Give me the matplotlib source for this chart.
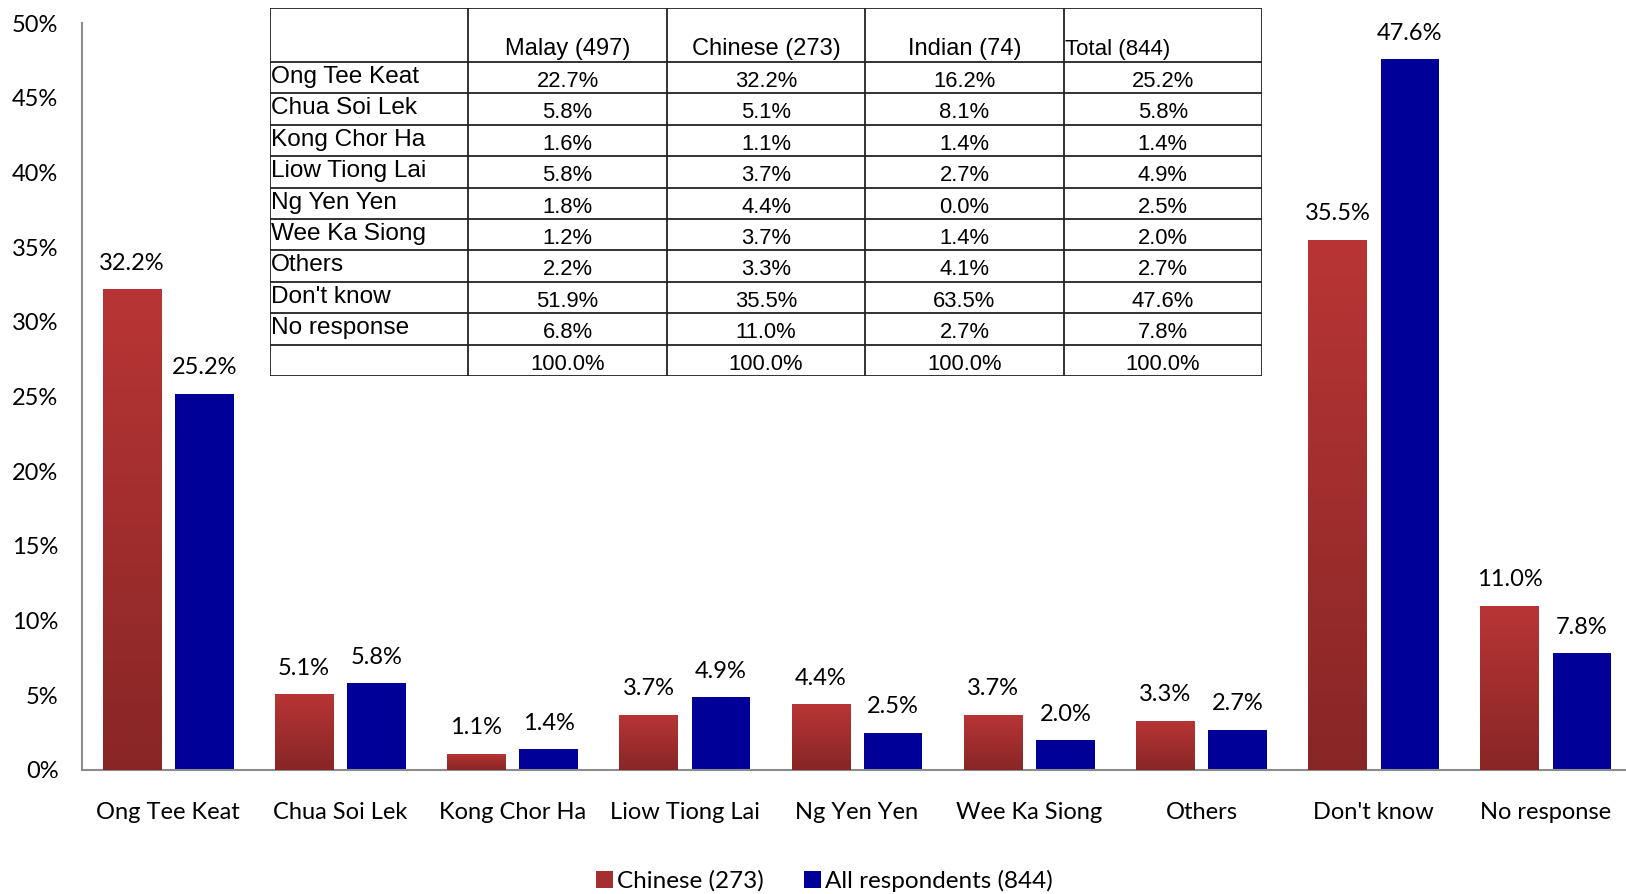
import numpy as np
import matplotlib
matplotlib.use("Agg")
import matplotlib.pyplot as plt
from matplotlib.colors import LinearSegmentedColormap
from matplotlib.patches import Patch

# data
categories = ["Ong Tee Keat", "Chua Soi Lek", "Kong Chor Ha", "Liow Tiong Lai",
              "Ng Yen Yen", "Wee Ka Siong", "Others", "Don't know", "No response"]
chinese = [32.2, 5.1, 1.1, 3.7, 4.4, 3.7, 3.3, 35.5, 11.0]
all_resp = [25.2, 5.8, 1.4, 4.9, 2.5, 2.0, 2.7, 47.6, 7.8]
series_names = ["Chinese (273)", "All respondents (844)"]

table_cols = ["Malay (497)", "Chinese (273)", "Indian (74)", "Total (844)"]
table_rows = ["Ong Tee Keat", "Chua Soi Lek", "Kong Chor Ha", "Liow Tiong Lai",
              "Ng Yen Yen", "Wee Ka Siong", "Others", "Don't know", "No response", ""]
malay = ["22.7%", "5.8%", "1.6%", "5.8%", "1.8%", "1.2%", "2.2%", "51.9%", "6.8%", "100.0%"]
chinese_t = ["32.2%", "5.1%", "1.1%", "3.7%", "4.4%", "3.7%", "3.3%", "35.5%", "11.0%", "100.0%"]
indian = ["16.2%", "8.1%", "1.4%", "2.7%", "0.0%", "1.4%", "4.1%", "63.5%", "2.7%", "100.0%"]
total = ["25.2%", "5.8%", "1.4%", "4.9%", "2.5%", "2.0%", "2.7%", "47.6%", "7.8%", "100.0%"]

RED_TOP = "#B93535"
RED_BOT = "#882626"
BLUE = "#000099"

plt.rcParams['font.family'] = ['Lato', 'DejaVu Sans']

W, H = 1626, 894
fig = plt.figure(figsize=(W / 100, H / 100), dpi=100)
# the plot area runs slightly past the right edge of the picture
ax = fig.add_axes([82 / W, (H - 770) / H, 1550 / W, (770 - 23) / H])

x = np.arange(len(categories))
bw = 0.34
off = 0.21
red_bars = ax.bar(x - off, chinese, bw, color=RED_TOP, zorder=2)
blue_bars = ax.bar(x + off, all_resp, bw, color=BLUE, zorder=2)

# vertical gradient on the red bars
cmap = LinearSegmentedColormap.from_list("redgrad", [RED_BOT, RED_TOP])
grad = np.linspace(0, 1, 256).reshape(-1, 1)
for b in red_bars:
    x0, y0 = b.get_x(), b.get_y()
    im = ax.imshow(grad, cmap=cmap, origin="lower", aspect="auto",
                   extent=[x0, x0 + b.get_width(), y0, y0 + b.get_height()], zorder=3)
    im.set_clip_path(b)

for bars, vals in [(red_bars, chinese), (blue_bars, all_resp)]:
    for b, v in zip(bars, vals):
        ax.annotate(f"{v:.1f}%", (b.get_x() + b.get_width() / 2, v),
                    xytext=(0, 11), textcoords="offset points",
                    ha="center", va="bottom", fontsize=17, color="black")

ax.set_xlim(-0.5, len(categories) - 0.5)
ax.set_ylim(0, 50)
ax.set_yticks(np.arange(0, 51, 5))
ax.set_yticklabels([f"{v}%" for v in range(0, 51, 5)])
ax.set_xticks(x)
ax.set_xticklabels(categories)
ax.tick_params(axis="y", length=0, pad=17, labelsize=17)
ax.tick_params(axis="x", length=0, pad=23, labelsize=17)
for s in ["top", "right"]:
    ax.spines[s].set_visible(False)
for s in ["left", "bottom"]:
    ax.spines[s].set_color("#8C8C8C")
    ax.spines[s].set_linewidth(1.5)

handles = [Patch(facecolor="#A52F2F"), Patch(facecolor=BLUE)]
fig.legend(handles, series_names, loc="center", bbox_to_anchor=(0.507, 13 / H),
           ncol=2, frameon=False, fontsize=17.5, handlelength=0.7, handleheight=0.7,
           handletextpad=0.18, columnspacing=1.65, borderpad=0)

# inset table (pasted over the chart)
tx0, tx1, ty0, ty1 = 270, 1262, 8, 376
tax = fig.add_axes([tx0 / W, (H - ty1) / H, (tx1 - tx0) / W, (ty1 - ty0) / H])
tax.set_xlim(0, 5)
n = len(table_rows)
header_h = 54 / 31.4
tax.set_ylim(n + header_h, 0)
tax.axis("off")
tax.add_patch(plt.Rectangle((0, 0), 5, n + header_h, facecolor="white", edgecolor="none", zorder=0))

ys = [0] + [header_h + i for i in range(n + 1)]
tax.hlines(ys, 0, 5, color="#222222", lw=1.3)
tax.vlines(range(6), 0, n + header_h, color="#222222", lw=1.3)

for j, c in enumerate(table_cols):
    if j == 3:
        tax.text(j + 1.005, header_h - 0.07, c, ha="left", va="bottom", fontsize=16,
                 family="Liberation Sans")
    else:
        tax.text(j + 1.5, header_h - 0.07, c, ha="center", va="bottom", fontsize=17,
                 family="Liberation Sans")

cols = [malay, chinese_t, indian, total]
for i, r in enumerate(table_rows):
    yc = header_h + i + 0.5
    tax.text(0.005, yc - 0.02, r, ha="left", va="center", fontsize=17.6, family="Liberation Sans")
    for j, col in enumerate(cols):
        tax.text(j + 1.5, yc + 0.12, col[i], ha="center", va="center", fontsize=15.8,
                 family="Liberation Sans")

fig.savefig("out.png", dpi=100)
